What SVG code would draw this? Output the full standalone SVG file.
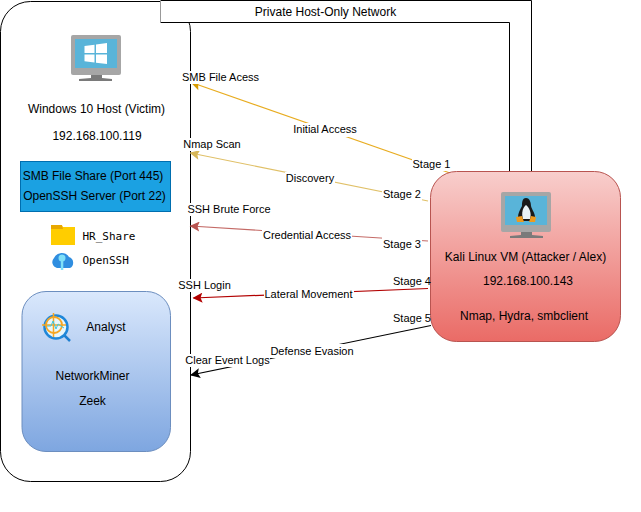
<svg xmlns="http://www.w3.org/2000/svg" width="641" height="512" viewBox="0 0 641 512">
<style>
text{font-family:"Liberation Sans",Arial,sans-serif;font-size:12px;fill:#000;text-anchor:middle}
#labels text{font-size:11px}
.m{font-family:"DejaVu Sans Mono","Liberation Mono",monospace;font-size:11px;text-anchor:start}
.c{fill:none;stroke-width:1.2}
.bg{fill:#fff;stroke:none}
</style>
<defs>
<linearGradient id="gr" x1="0" y1="0" x2="0" y2="1"><stop offset="0" stop-color="#f8cecc"/><stop offset="1" stop-color="#ea6b66"/></linearGradient>
<linearGradient id="gb" x1="0" y1="0" x2="0" y2="1"><stop offset="0" stop-color="#dae8fc"/><stop offset="1" stop-color="#7ea6e0"/></linearGradient>
<marker id="a1" markerUnits="userSpaceOnUse" markerWidth="12" markerHeight="12" refX="1" refY="5" orient="auto"><path d="M0 5L10 0L8 5L10 10Z" fill="#d79b00"/></marker>
<marker id="a2" markerUnits="userSpaceOnUse" markerWidth="12" markerHeight="12" refX="1" refY="5" orient="auto"><path d="M0 5L10 0L8 5L10 10Z" fill="#d6b656"/></marker>
<marker id="a3" markerUnits="userSpaceOnUse" markerWidth="12" markerHeight="12" refX="1" refY="5" orient="auto"><path d="M0 5L10 0L8 5L10 10Z" fill="#b85450"/></marker>
<marker id="a4" markerUnits="userSpaceOnUse" markerWidth="12" markerHeight="12" refX="1" refY="5" orient="auto"><path d="M0 5L10 0L8 5L10 10Z" fill="#b20000"/></marker>
<marker id="a5" markerUnits="userSpaceOnUse" markerWidth="12" markerHeight="12" refX="1" refY="5" orient="auto"><path d="M0 5L10 0L8 5L10 10Z" fill="#000"/></marker>
</defs>
<rect width="641" height="512" fill="#fff"/>
<g id="host">
<rect x="0.500" y="1.500" width="190" height="480" rx="30" ry="30" fill="#fff" stroke="#000"/>
<g id="host-icon">
<rect x="71" y="35" width="50" height="40" rx="2" fill="#a6a6a6"/>
<rect x="75" y="39" width="42" height="29" fill="#59b4d9"/>
<path d="M84.500 46L94.500 44.700V53H84.500ZM96 44.500L107 43V53H96ZM84.500 54.500H94.500V62.500L84.500 61.200ZM96 54.500H107V64L96 62.700Z" fill="#fff"/>
<path d="M91 75H102V78L112 79V81H79V79L91 78Z" fill="#7a7a7a"/>
</g>
<text x="96.500" y="113">Windows 10 Host (Victim)</text>
<text x="97" y="140">192.168.100.119</text>
</g>
<g id="network">
<path d="M160.500 0.500H531.500V171H509.500V22.500H160.500Z" fill="#fff" stroke="none"/>
<path d="M160.500 0.500H531.500V171M160.500 22.500H509.500V171" fill="none" stroke="#000"/>
<path d="M160.500 0.500V22.500" fill="none" stroke="#999"/>
<text x="325.500" y="16">Private Host-Only Network</text>
</g>
<g id="services">
<rect x="20.500" y="161.500" width="150" height="50" fill="#1ba1e2" stroke="#006eaf"/>
<text x="93" y="180">SMB File Share (Port 445)</text>
<text x="94.500" y="200">OpenSSH Server (Port 22)</text>
</g>
<g id="hr-share">
<path d="M51 225H61L63 227H75V245H51Z" fill="#ffcd00"/>
<path d="M51 225H62L63 229H51Z" fill="#e8a800"/>
<text class="m" x="82.500" y="240">HR_Share</text>
</g>
<g id="openssh">
<path d="M57 268A6 6 0 0 1 54 258A8.500 8.500 0 0 1 69 257A6 6 0 0 1 70 268Z" fill="#2f8ee0"/>
<circle cx="62" cy="258" r="3.500" fill="#7fe0f8"/>
<rect x="60.800" y="260" width="2.500" height="10" fill="#7fe0f8"/>
<text class="m" x="82.500" y="264">OpenSSH</text>
</g>
<g id="analyst">
<rect x="22" y="291.500" width="148.500" height="160" rx="24" ry="24" fill="url(#gb)" stroke="#6c8ebf"/>
<g id="analyst-icon" fill="none">
<path d="M63 334L70 341" stroke="#1f7fd0" stroke-width="2.500"/>
<circle cx="56" cy="327" r="11.500" stroke="#1f87d8" stroke-width="2.500" fill="#e8f6fb"/>
<circle cx="54" cy="325" r="8" stroke="#f5a623" stroke-width="1.800"/>
<path d="M53.500 313V337M42 325H66" stroke="#f5a623" stroke-width="1.500"/>
<path d="M47 326L51 326L53 321L56 329L58 324L64 328" stroke="#3ec6e0" stroke-width="1"/>
</g>
<text x="106" y="331">Analyst</text>
<text x="92.500" y="380">NetworkMiner</text>
<text x="92.500" y="405">Zeek</text>
</g>
<g id="connectors">
<path class="c" d="M191.500 82.500L450 173" stroke="#e8ac20" marker-start="url(#a1)"/>
<path class="c" d="M190.500 153L428 201" stroke="#e0c068" marker-start="url(#a2)"/>
<path class="c" d="M190.500 226L428 241" stroke="#c46a66" marker-start="url(#a3)"/>
<path class="c" d="M193.500 298L428 288.500" stroke="#b20000" marker-start="url(#a4)"/>
<path class="c" d="M191 375L431 325.500" stroke="#000" marker-start="url(#a5)"/>
</g>
<g id="kali">
<rect x="430.500" y="171.500" width="190" height="170" rx="26" ry="26" fill="url(#gr)" stroke="#b85450"/>
<g id="kali-icon">
<rect x="501" y="192" width="50" height="40" rx="2" fill="#a6a6a6"/>
<rect x="505" y="196" width="42" height="29" fill="#59b4d9"/>
<path d="M526 198C522 198 522 203 522 206C520 210 518 213 518 217L522 221H531L535 217C535 213 532 210 531 206C531 203 530 198 526 198Z" fill="#1a1a1a"/>
<path d="M526 205C523 207 521 213 523 219H530C532 213 529 207 526 205Z" fill="#eaf3f6"/>
<path d="M516 217L522 216L524 222H517ZM536 217L531 216L529 222H535Z" fill="#ee9a1f"/>
<path d="M521 232H532V235L543 236V238H510V236L521 235Z" fill="#7a7a7a"/>
</g>
<text x="525.500" y="261">Kali Linux VM (Attacker / Alex)</text>
<text x="528" y="285">192.168.100.143</text>
<text x="524" y="320">Nmap, Hydra, smbclient</text>
</g>
<g id="labels">
<rect class="bg" x="181" y="71" width="79" height="13"/>
<text x="220.500" y="81">SMB File Acess</text>
<rect class="bg" x="182" y="138" width="60" height="13"/>
<text x="212" y="148">Nmap Scan</text>
<rect class="bg" x="187" y="203" width="85" height="13"/>
<text x="229" y="213">SSH Brute Force</text>
<rect class="bg" x="178" y="279" width="54" height="13"/>
<text x="204.500" y="289">SSH Login</text>
<rect class="bg" x="185" y="354" width="85" height="13"/>
<text x="227.500" y="364">Clear Event Logs</text>
<rect class="bg" x="292" y="123" width="66" height="14"/>
<text x="325" y="133">Initial Access</text>
<rect class="bg" x="285" y="172" width="50" height="13"/>
<text x="310" y="182">Discovery</text>
<rect class="bg" x="262" y="229" width="90" height="13"/>
<text x="307" y="239">Credential Access</text>
<rect class="bg" x="264" y="288" width="90" height="13"/>
<text x="308.500" y="298">Lateral Movement</text>
<rect class="bg" x="270" y="344" width="84" height="14"/>
<text x="312" y="355">Defense Evasion</text>
<rect class="bg" x="412" y="158" width="40" height="13"/>
<text x="431.500" y="168">Stage 1</text>
<rect class="bg" x="382" y="188" width="40" height="13"/>
<text x="402" y="198">Stage 2</text>
<rect class="bg" x="382" y="237" width="40" height="13"/>
<text x="402" y="248">Stage 3</text>
<rect class="bg" x="392" y="275" width="38" height="13"/>
<text x="412" y="285">Stage 4</text>
<rect class="bg" x="392" y="312" width="38" height="13"/>
<text x="412" y="322">Stage 5</text>
</g>
</svg>
